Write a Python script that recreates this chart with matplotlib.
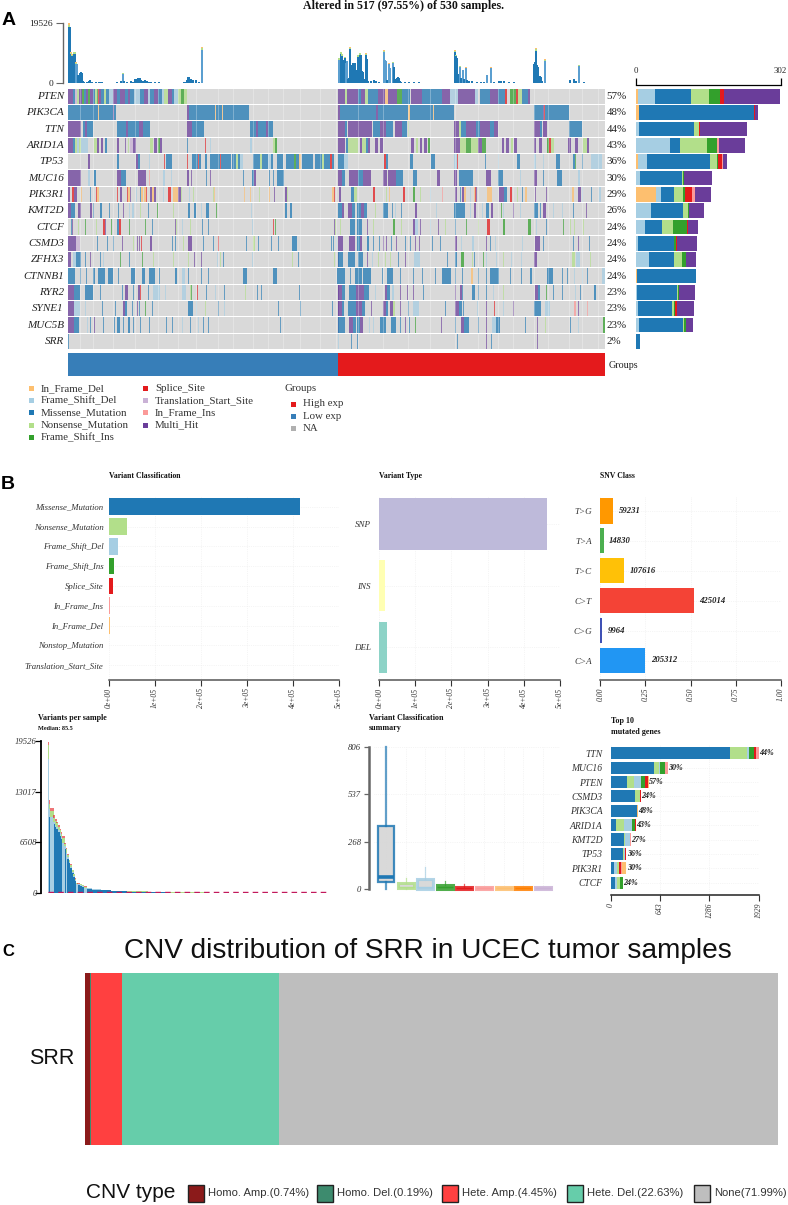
import matplotlib
matplotlib.use("Agg")
import matplotlib.pyplot as plt
from matplotlib.patches import Rectangle

W, H = 788, 1205
SERIF = "Liberation Serif"
SANS = "Liberation Sans"

# ---------- variant colours ----------
COL = {"D": "#FDBF6F", "F": "#A6CEE3", "M": "#1F78B4", "N": "#B2DF8A", "I": "#33A02C",
       "S": "#E31A1C", "T": "#CAB2D6", "J": "#FB9A99", "H": "#6A3D9A", "O": "#FF7F00"}

# ---------- panel A data ----------
GENES = ["PTEN", "PIK3CA", "TTN", "ARID1A", "TP53", "MUC16", "PIK3R1", "KMT2D",
         "CTCF", "CSMD3", "ZFHX3", "CTNNB1", "RYR2", "SYNE1", "MUC5B", "SRR"]
PCTS = ["57%", "48%", "44%", "43%", "36%", "30%", "29%", "26%", "24%", "24%", "24%", "24%",
        "23%", "23%", "23%", "2%"]
GROUP_NAMES = ["Low exp", "High exp"]
GROUP_SPAN = [270, 267]

# tokens: "start-endC" or "startC" (short run), positions along the sample axis
PTEN = ("0-5H 5-7M 7-9T 9-11N 11-14H 14-16I 16-18M 18-20H 20-22I 22-25H 25-27M 27-29N 29-30I 30-31S 31-33H "
        "33-36M 36-38N 38-41M 41-45F 45-49H 49-52M 52-57H 57-60M 60-62H 62-66M 66-72F 72-76M 76-80H 80-82F "
        "82-86M 86-90H 90-94M 94-96F 96-100N 100-104H 104-106M 106-110F 110-113N 113-116I 116-119N "
        "270-277H 277-279N 279-290H 290-293M 293-297H 297-300N 300-310M 310-317H 317-320D 320-329H 329-334I 334-342M "
        "343-354H 354-364M 364-374M 374-382H 382-390F 390-397H 397-407H 407-410F 412-422M 422-430H 430-437M 437-439S "
        "442-448I 448-450S 450-454N 454-460M 460-462H")
PIK3CA = "0-30M 30-31D 31-45M 45-46H 46-48M 119-121H 121-147M 147-148D 148-154M 154-155D 155-181M 270-272H 272-308M 308-310H 310-340M 340-342D 342-365M 365-366D 366-386M 466-475M 475-476H 476-477S 477-501M"
TTN = ("0-13H 15-17M 17-19H 19-25M 49-58M 58-60H 60-71M 71-75H 75-82M 119-124H 124-136M 182-188M 188-190H 190-198M 198-200H 200-205M "
       "270-277H 277-279M 280-304H 305-312M 312-318H 318-325M 327-334H 334-339M 340-341N "
       "386-391H 391-393N 393-398M 398-408H 408-412M 412-422H 422-426M 426-430H 466-472H 472-474M 475-479H 501-514M")
ARID1A = ("0-5H 5-7M 7-9N 9-11F 11-13N 13-20F 26-29N 29-31H 33-35H 37-39M 49-51H 57-58H 60-61N 62-65T 65-68H 82-85N 86-89H 90-92I 92-94H "
          "119-120M 137-138S 142-143F 182-184F 205-207N 207-209I "
          "270-277H 278-280M 280-290N 292-294H 294-298N 298-300M 300-302H 307-310H 312-315H 343-346H 348-350N 352-354H 356-359H 360-362I "
          "386-392H 392-398N 398-403I 403-410N 410-414H 414-418I 434-436H 438-441H 443-445N 446-449H 466-468H 471-474H 479-481I 481-483S 483-486N 500-503H 507-510H 515-519N 519-521H")
TP53 = ("20-22H 49-51M 68-70H 70-72M 81-82F 96-97S 98-104M 119-120S 124-130M 130-131S 131-133M 137-139M 142-152M 152-153S 153-163M "
        "164-168M 168-170N 170-172M 172-175F 185-192M 192-194N 194-200M 200-203F 203-205M 209-215M 218-226M 226-228I 228-231M 231-233D "
        "234-245M 247-254M 254-256N 256-262M 262-264S 264-266M 270-276M 276-280F 315-316F 316-318S 318-320M 342-345M 363-367M "
        "386-389F 389-390S 417-418M 430-431F 449-452M 466-468F 475-476F 488-492M 505-507M 507-508I 514-515M 523-534F")
MUC16 = ("0-13H 20-22F 26-28M 49-53H 53-58M 70-78H 81-82J 95-97F 103-104F 119-121H 123-124H 138-139M 142-143H 175-176M 184-186M 186-188H "
         "201-202M 205-206M 209-216M 270-274H 274-277M 281-290H 290-295M 295-303H 315-319H 320-328H 328-335M 345-349M 369-372H "
         "386-389H 391-405M 418-423H 430-435M 452-453F 466-469H 475-476M 489-494M 510-512F")
PIK3R1 = ("0-2H 4-6S 6-9H 13-14D 22-23M 28-29S 29-31D 49-50S 52-54H 59-60S 60-62D 62-63H 68-69F 72-73M 73-75D 76-78D 78-79S 82-84H 84-86D 86-88H "
          "95-96F 100-103S 105-110D 110-113H 113-114N 121-122F 125-126N 145-146N 146-147D 176-177D 182-183D 191-192N 201-202D 206-207H 217-219H 219-220N "
          "264-266D 266-267S 271-273H 283-286M 286-289N 305-307S 318-319N 321-322D 335-337S 345-347I 352-353N 362-363F 374-375J 387-389H 392-393M "
          "394-396H 396-398D 402-403F 406-407D 407-408S 408-409H 419-424D 431-436H 436-439M 442-444S 449-450N 454-455M 457-459D 467-468H 478-479H 504-506D 510-513H 514-515F 523-524M 531-533F")
KMT2D = ("0-3H 3-7M 10-13H 22-24H 25-26M 32-34M 41-42M 50-51M 55-56H 61-62F 64-66F 72-73N 80-81M 89-90I 105-106N 120-122M 126-128M 133-134F 138-141M 148-149I 183-184F 217-219M 222-224M "
         "270-274M 274-276H 280-284H 284-287M 289-293M 293-296H 296-299M 307-308N 315-320M 324-325M 327-328F 333-334M 347-349H 368-369F "
         "386-397M 402-403F 406-408H 414-415F 418-421M 423-425H 433-434I 435-436F 445-446H 452-453F 466-470M 472-473M 475-478H 485-486F 494-495F 505-506M 518-519H")
CTCF = ("3-4M 4-5H 10-11N 17-18I 28-29N 35-37S 37-38H 43-44I 49-51M 51-53S 61-62I 77-78I 84-85M 107-108H 108-109N 114-115F 122-123N 134-135M 140-141M 184-185F 205-206S 207-208I "
        "266-267H 267-268N 272-273N 282-287M 289-294M 299-300H 305-306N 325-327I 333-334N 345-347H 347-350F 352-353H 362-363F 370-371H 377-378N 387-388M 398-399I 410-411N 419-422S 435-437I 460-463I 468-469F 478-479M 495-496I 502-503N 506-507N 515-516N")
CSMD3 = ("0-8H 8-12T 29-30M 39-40M 45-46M 54-55H 65-66N 69-70H 71-72H 73-74S 82-84H 104-105M 107-108M 115-116N 120-124H 135-136M 145-146M 150-151S 178-179M 185-187N 190-191M 203-204M 210-211M 224-229M 263-264M 268-269F "
         "265-266M 270-275H 281-287H 289-292M 292-294H 299-301M 305-306M 311-312M 315-316H 318-319H 323-324M 328-329H 337-338M 342-343M 347-348H 351-352H 364-365M 372-373M 387-389H 393-394F 404-406F 418-419H 422-423M 427-428F 454-455F 467-472H 475-476M 505-506M 510-511H 521-522M")
ZFHX3 = ("0-3H 5-8F 8-13M 17-18M 22-23H 32-33M 35-36F 52-53I 61-62M 74-75I 85-86N 105-106N 120-121N 126-127H 133-134H 149-150F 152-153N 155-156M 184-185F 224-225N 230-231M 270-271H "
         "266-267N 270-275M 280-287M 290-295M 299-300H 304-305F 310-311N 317-318N 322-323N 330-331M 337-338H 346-352F 379-380M 387-389M 393-396I 404-405N 406-407M 415-416I 418-419F 428-429F 435-436N 443-444F 453-454F 466-469H 504-507N 508-512F 522-523N")
CTNNB1 = ("0-7M 12-13M 18-19M 25-27M 30-37M 40-45M 50-51M 63-67M 74-77M 81-87M 91-92M 107-109M 114-117F 120-121M 133-134M 140-141M 175-179M 205-209M "
          "269-277M 282-283M 287-294M 295-303M 314-315M 319-325M 332-333M 345-346M 354-355M 367-368M 374-383M 387-388M 394-395M 403-405D 410-411M 418-419M 422-431M 442-443M 453-454M 462-464M 479-485M 494-495M 499-500M 506-507F 514-515F 519-520M 534-537F")
RYR2 = ("0-6H 6-12M 17-25M 32-33M 54-55M 57-60H 65-66M 70-72H 72-73S 80-81M 85-92F 97-98F 114-118F 122-123N 123-124I 129-130S 138-139M 147-148F 156-157M 177-178N 189-190M 193-194M 231-232M 270-271H "
        "270-274H 274-277M 281-288M 288-296H 296-301M 307-308F 317-319H 319-322M 324-326F 332-333H 339-340H 345-346H 355-356M 387-388H 392-394H 394-395M 404-407M 410-411M 418-419M 425-426F 435-436N 467-470H 470-472M 478-479I 485-486M 494-495M 507-508F 512-513M 526-528M")
SYNE1 = ("0-6H 6-12F 17-18F 34-35M 47-48M 55-57H 57-59M 64-65M 69-70H 71-72M 77-78I 84-85M 120-125M 128-129F 137-138N 150-151M 156-157F 210-211M 232-233M 270-271H "
         "264-265M 270-274H 274-276M 280-288M 288-294H 294-297M 303-304H 315-318H 318-320M 322-325H 325-327N 332-333H 340-341M 345-351F 377-378M 387-391H 391-394M 395-396M 409-410F 418-419H 426-427S 435-436F 445-446H 466-473M 477-482F 506-508J 510-511H 519-520J")
MUC5B = ("0-6H 6-11M 19-20F 22-23M 26-27H 35-36M 46-47M 49-52M 55-56M 60-62M 65-66M 72-73M 81-82M 98-99M 104-105M 114-115F 122-123M 130-131F 135-136M 140-141M 212-213M 270-271H "
         "270-277M 281-285H 285-288M 289-292M 292-295H 301-302F 305-306F 312-318M 323-328M 332-333M 337-338H 341-342M 347-348I 373-374H 387-388M 393-396H 396-401M 410-411M 418-419H 424-428F 428-432M 457-458M 469-470H 477-478N 502-503M 510-511F 535-537I")
SRR = "0-1M 270-271F 283-284M 289-290M 389-390M 418-419H 423-424M 469-470H"
CELL_RUNS = [PTEN, PIK3CA, TTN, ARID1A, TP53, MUC16, PIK3R1, KMT2D, CTCF, CSMD3, ZFHX3, CTNNB1, RYR2, SYNE1, MUC5B, SRR]
CELL_SEPARATORS = [12, 25, 45, 67, 90, 110, 128, 150, 165, 185, 200, 215, 232, 252, 268, 290, 315, 340, 362, 387, 410, 430, 445, 466, 480, 501, 514, 530]

# totals per sample for the top bars (light blue ones listed apart)
TOP_SAMPLE = [0,1,2,3,4,5,6,7,8,9,10,11,12,13,14,15,18,20,21,23,27,30,32,33,48,52,54,55,58,62,64,66,67,69,71,72,74,76,78,80,82,86,90,100,105,
              115,117,118,119,120,122,124,127,130,133,135,140,150,155,165,175,185,190,200,210,220,230,240,250,260,268,
              270,271,272,273,274,275,276,277,278,279,280,281,282,283,284,285,286,287,288,289,290,291,292,293,294,295,296,297,298,299,302,305,307,310,315,316,317,318,320,321,324,325,326,328,329,330,331,
              332,336,340,345,350,386,387,388,389,390,391,392,393,394,395,397,398,400,403,408,412,415,418,422,425,430,432,435,440,445,465,466,467,468,469,470,471,472,473,476,480,490,501,505,507,510,515,520,530]
TOP_TOTAL = [18000,18000,9300,8800,4000,9500,9500,6300,6000,2600,2300,3300,3500,3400,500,300,300,500,1000,400,300,400,300,350,250,600,3000,800,400,500,300,1300,1200,1500,1600,1000,800,900,600,400,300,250,200,150,100,
             300,300,1000,2100,1800,1300,900,1100,300,10800,100,150,120,100,130,100,150,120,100,120,90,100,80,100,80,100,
             7600,7100,9500,8800,7600,7400,8000,6600,7100,1400,1500,10900,5200,5900,6600,6100,6600,4300,1700,8500,9000,9200,9100,4000,3600,1300,1000,9000,7800,500,500,1000,600,400,10000,7600,7100,1000,6000,4700,6400,5200,1200,1500,1800,1500,800,
             400,300,300,250,200,9900,8600,8000,2800,2000,5100,1500,1500,4300,1200,4800,1000,800,600,400,300,350,2700,4800,300,800,700,500,300,200,6200,6700,10500,5700,5200,2000,2400,1800,500,7100,150,150,1000,1200,600,5400,300,150,100]
LIGHT_SAMPLE = [7,8,54,133,270,271,277,278,315,316,317,320,321,324,391,394,397,418,422,476,510]
TIP_SAMPLE = [0,2,3,5,6,7,54,133,270,272,273,276,281,289,291,297,315,320,324,386,387,391,397,422,467,476,510]
TIP_NONS = [900,480,400,500,480,320,150,550,380,480,450,400,550,430,460,470,500,300,320,500,360,270,200,180,550,380,270]
TIP_OTHER = [400,200,150,200,170,120,50,200,150,200,150,130,200,150,150,150,200,100,120,250,150,100,80,60,300,150,100]

RIGHT_COUNTS = [
    [("D", 3.5), ("F", 37), ("M", 74.6), ("N", 38), ("I", 21.6), ("S", 8.4), ("H", 118.5)],
    [("D", 7), ("M", 240), ("S", 2), ("H", 5)],
    [("F", 6), ("M", 116), ("N", 9), ("I", 1), ("S", 2), ("H", 98)],
    [("F", 72), ("M", 19), ("N", 58), ("I", 21), ("J", 3), ("H", 54)],
    [("D", 5), ("F", 17), ("M", 133), ("N", 14), ("I", 2), ("S", 8), ("J", 2), ("H", 9)],
    [("F", 8), ("M", 89), ("N", 1), ("I", 2), ("H", 58)],
    [("D", 41), ("F", 11), ("M", 27), ("N", 19), ("I", 5), ("S", 14), ("J", 6), ("H", 34)],
    [("F", 32), ("M", 66), ("N", 10), ("I", 3), ("H", 31)],
    [("F", 18), ("M", 36), ("N", 24), ("I", 28), ("S", 3), ("H", 20)],
    [("F", 3.5), ("M", 75), ("N", 1.5), ("I", 3.5), ("S", 2), ("H", 43)],
    [("F", 26.5), ("M", 52), ("N", 17), ("I", 10), ("H", 20)],
    [("D", 2), ("M", 123), ("I", 1)],
    [("F", 2), ("M", 83), ("N", 3.5), ("I", 2), ("H", 33)],
    [("F", 4), ("M", 72), ("N", 3.5), ("I", 3), ("S", 3), ("H", 36)],
    [("F", 6), ("M", 93), ("N", 1.5), ("I", 3.5), ("H", 16)],
    [("M", 8.4)],
]

LEG1 = [("In_Frame_Del", "D"), ("Frame_Shift_Del", "F"), ("Missense_Mutation", "M"), ("Nonsense_Mutation", "N"), ("Frame_Shift_Ins", "I")]
LEG2 = [("Splice_Site", "S"), ("Translation_Start_Site", "T"), ("In_Frame_Ins", "J"), ("Multi_Hit", "H")]
LEG3 = [("High exp", "#E41A1C"), ("Low exp", "#377EB8"), ("NA", "#B0B0B0")]

# ---------- panel B data ----------
VC_NAMES = ["Missense_Mutation", "Nonsense_Mutation", "Frame_Shift_Del", "Frame_Shift_Ins", "Splice_Site",
            "In_Frame_Ins", "In_Frame_Del", "Nonstop_Mutation", "Translation_Start_Site"]
VC_VALUES = [415000, 40000, 18900, 11600, 9400, 2000, 1500, 1000, 300]
VC_CODES = ["M", "N", "F", "I", "S", "J", "D", "O", "T"]
SCI_TICKS = [0, 100000, 200000, 300000, 400000, 500000]
SCI_LABELS = ["0e+00", "1e+05", "2e+05", "3e+05", "4e+05", "5e+05"]

VT_NAMES = ["SNP", "INS", "DEL"]
VT_VALUES = [465000, 15700, 20300]
VT_COLORS = ["#BEBADA", "#FFFFB3", "#8DD3C7"]

SNV_NAMES = ["T>G", "T>A", "T>C", "C>T", "C>G", "C>A"]
SNV_COUNTS = [59231, 14830, 107616, 425014, 9964, 205312]
SNV_COLORS = ["#FF9800", "#4CAF50", "#FFC107", "#F44336", "#3F51B5", "#2196F3"]

VPS_START = [0, 2, 4, 10, 13, 16, 19, 22, 25, 27, 31, 34, 36, 39, 42, 45, 48, 51, 53, 56, 60, 64, 68, 74, 84, 100, 120, 150, 190, 230, 300]
VPS_WIDTH = [2, 2, 6, 3, 3, 3, 3, 3, 2, 4, 3, 2, 3, 3, 3, 3, 3, 2, 3, 4, 4, 4, 6, 10, 16, 20, 30, 40, 40, 70, 230]
VPS_MISS = [0, 9800, 0, 8900, 8500, 8200, 7800, 7400, 7000, 0, 5700, 0, 4400, 3800, 3200, 2600, 2100, 1600, 0, 1050, 950, 800, 0, 500, 400, 330, 230, 150, 90, 50, 20]
VPS_LIGHT = [17300, 1000, 9800, 300, 300, 300, 300, 300, 200, 6500, 300, 5200, 250, 200, 200, 150, 150, 100, 1150, 100, 100, 100, 700, 80, 70, 60, 40, 30, 20, 12, 6]
VPS_NONS = [1700, 700, 800, 500, 450, 450, 450, 400, 400, 550, 300, 420, 250, 230, 220, 170, 180, 140, 100, 70, 70, 70, 110, 50, 35, 30, 25, 15, 8, 6, 3]
VPS_SPLICE = [500, 500, 300, 300, 250, 250, 250, 200, 300, 250, 100, 180, 100, 70, 80, 80, 70, 60, 50, 30, 30, 30, 40, 20, 15, 10, 5, 5, 2, 2, 1]
VPS_MEDIAN = 85.5
VPS_TICKS = [0, 6508, 13017, 19526]

BOX_CODES = ["M", "N", "F", "I", "S", "J", "D", "O", "T"]
BOX_Q1 = [38, 2, 1, 0, 0, 0, 0, 0, 0]
BOX_MED = [65, 8, 9, 9, 3, 2, 2, 2, 2]
BOX_Q3 = [359, 30, 53, 19, 11, 8, 8, 8, 8]
BOX_LOW = [0, 0, 0, 0, 0, 0, 0, 0, 0]
BOX_HIGH = [806, 62, 125, 45, 26, 10, 10, 10, 10]
BOX_TICKS = [0, 268, 537, 806]

TOP_GENES = ["TTN", "MUC16", "PTEN", "CSMD3", "PIK3CA", "ARID1A", "KMT2D", "TP53", "PIK3R1", "CTCF"]
TOP_PCT = ["44%", "30%", "57%", "24%", "48%", "43%", "27%", "36%", "30%", "24%"]
TOP_STACK = [
    [("M", 1551), ("N", 230), ("F", 26), ("I", 65), ("S", 22), ("J", 35)],
    [("M", 569), ("N", 65), ("F", 4), ("I", 65), ("S", 1), ("J", 43)],
    [("M", 208), ("N", 96), ("F", 91), ("I", 52), ("S", 43), ("D", 9)],
    [("M", 317), ("N", 61), ("F", 2), ("S", 13)],
    [("M", 339), ("D", 13)],
    [("M", 70), ("N", 104), ("F", 109), ("I", 39), ("S", 4)],
    [("M", 178), ("N", 13), ("F", 61), ("I", 4), ("J", 12)],
    [("M", 156), ("N", 22), ("F", 9), ("S", 17)],
    [("M", 48), ("F", 39), ("N", 22), ("I", 4), ("S", 26), ("J", 9), ("D", 56)],
    [("M", 61), ("F", 26), ("N", 30), ("I", 39), ("S", 4)],
]
TOP_TICKS = [0, 643, 1286, 1929]

# ---------- panel C data ----------
CNV_NAMES = ["Homo. Amp.", "Homo. Del.", "Hete. Amp.", "Hete. Del.", "None"]
CNV_PCT = [0.74, 0.19, 4.45, 22.63, 71.99]
CNV_COLORS = ["#8B1A1A", "#3D8B6E", "#FF4040", "#66CDAA", "#BEBEBE"]

# ---------- helpers ----------
plt.rcParams["font.family"] = [SERIF, "DejaVu Serif"]
fig = plt.figure(figsize=(W / 100, H / 100), dpi=100, facecolor="white")


def axpx(x0, y0, x1, y1):
    ax = fig.add_axes([x0 / W, 1 - y1 / H, (x1 - x0) / W, (y1 - y0) / H])
    ax.patch.set_alpha(0)
    return ax


overlay = axpx(0, 0, W, H)
overlay.set_xlim(0, W)
overlay.set_ylim(H, 0)
overlay.axis("off")
overlay.set_zorder(10)


def txt(x, y, s, **kw):
    kw.setdefault("va", "center")
    overlay.text(x, y, s, **kw)


def bare(ax):
    for s in ax.spines.values():
        s.set_visible(False)
    ax.set_xticks([])
    ax.set_yticks([])


def parse_runs(s):
    for tok in s.split():
        code = tok[-1]
        a, b = tok[:-1].split("-")
        yield float(a), float(b), code


ROW_H = 16.33
TOP_Y = 88.3

# top bars
ax = axpx(68, 22.7, 605, 83)
bare(ax)
ax.set_xlim(0, 537)
ax.set_ylim(0, 19526)
miss_colors = ["#5B9FD0" if s in LIGHT_SAMPLE else COL["M"] for s in TOP_SAMPLE]
ax.bar(TOP_SAMPLE, TOP_TOTAL, width=1.6, align="edge", color=miss_colors, lw=0)
for s, n, o in zip(TIP_SAMPLE, TIP_NONS, TIP_OTHER):
    base = TOP_TOTAL[TOP_SAMPLE.index(s)]
    ax.bar(s, n, bottom=base, width=1.6, align="edge", color=COL["N"], lw=0)
    ax.bar(s, o, bottom=base + n, width=1.6, align="edge", color=COL["D"], lw=0)
ax.hlines(0, 0, 537, color="#c8c8d8", lw=0.5)
yax = axpx(63, 22.7, 68, 83)
bare(yax)
yax.set_ylim(0, 19526)
yax.spines["left"].set_visible(True)
yax.spines["left"].set_color("#666666")
yax.spines["left"].set_linewidth(1)
yax.set_yticks([0, 19526])
yax.set_yticklabels(["0", "19526"], fontsize=6.8, color="#222222")
yax.tick_params(axis="y", length=5, width=0.8, color="#666666", pad=2)

# oncoplot cells
ax = axpx(68, TOP_Y, 605, TOP_Y + ROW_H * len(GENES))
bare(ax)
ax.set_xlim(0, 537)
ax.set_ylim(len(GENES), 0)
for r, runs in enumerate(CELL_RUNS):
    ax.add_patch(Rectangle((0, r + 0.03), 537, 0.94, fc="#D9D9D9", lw=0))
    for a, b, c in parse_runs(runs):
        narrow = b - a <= 1.5
        pad = 0.45 if narrow else 0.1
        ax.add_patch(Rectangle((a - pad, r + 0.03), b - a + 2 * pad, 0.94, fc=COL[c],
                               alpha=0.62 if narrow else 0.74, lw=0))
ax.vlines(CELL_SEPARATORS, 0, len(GENES), color="white", lw=0.5, alpha=0.4)
for r, (g, p) in enumerate(zip(GENES, PCTS)):
    y = TOP_Y + ROW_H * (r + 0.5)
    txt(64, y, g, ha="right", style="italic", fontsize=8, color="#222222")
    txt(606.5, y, p, ha="left", fontsize=7.9, color="#222222")

# right stacked bars
ax = axpx(636, TOP_Y, 780.5, TOP_Y + ROW_H * len(GENES))
bare(ax)
ax.set_xlim(0, 302)
ax.set_ylim(len(GENES), 0)
for r, stack in enumerate(RIGHT_COUNTS):
    left = 0
    for code, v in stack:
        ax.barh(r + 0.5, v, left=left, height=0.9, color=COL[code], lw=0)
        left += v
ax = axpx(636, 79, 780.5, 85)
bare(ax)
ax.set_xlim(0, 302)
ax.set_ylim(0, 1)
ax.spines["bottom"].set_visible(True)
ax.spines["bottom"].set_linewidth(0.9)
ax.set_xticks([0, 302])
ax.tick_params(axis="x", direction="in", length=5, width=0.9, labelbottom=False, labeltop=False)
txt(636, 71, "0", ha="center", fontsize=6.3, color="#222222")
txt(780.5, 71, "302", ha="center", fontsize=6.3, color="#222222")

# group bar
ax = axpx(68, 353.3, 605, 376)
bare(ax)
ax.set_xlim(0, 537)
ax.set_ylim(0, 1)
ax.barh(0.5, GROUP_SPAN[0], height=1, left=0, color="#377EB8", lw=0)
ax.barh(0.5, GROUP_SPAN[1], height=1, left=GROUP_SPAN[0], color="#E41A1C", lw=0)
txt(608.5, 365, "Groups", ha="left", fontsize=7.3, color="#222222")

# legends
for i, (t, c) in enumerate(LEG1):
    y = 388.3 + 12.3 * i
    overlay.add_patch(Rectangle((29.5, y - 2.5), 5, 5, fc=COL[c], lw=0))
    txt(40.7, y, t, fontsize=7.8, color="#333333")
for i, (t, c) in enumerate(LEG2):
    y = 388.3 + 12.3 * i
    overlay.add_patch(Rectangle((143.5, y - 2.5), 5, 5, fc=COL[c], lw=0))
    txt(155, y, t, fontsize=7.8, color="#333333")
txt(285, 388.3, "Groups", fontsize=7.8, color="#333333")
for i, (t, c) in enumerate(LEG3):
    y = 404 + 12.3 * i
    overlay.add_patch(Rectangle((291.5, y - 2.5), 5, 5, fc=c, lw=0))
    txt(303, y, t, fontsize=7.8, color="#333333")

txt(404, 5.5, "Altered in 517 (97.55%) of 530 samples.", ha="center", fontweight="bold", fontsize=8.6, color="#111111")
txt(2, 20.5, "A", family=SANS, fontweight="bold", fontsize=14, color="black")
txt(1, 484.5, "B", family=SANS, fontweight="bold", fontsize=14, color="black")
txt(2, 951, "C", family=SANS, fontweight="bold", fontsize=12, color="black")


def bottom_axis(ax, ticks, labels):
    for s in ("top", "right", "left"):
        ax.spines[s].set_visible(False)
    ax.spines["bottom"].set_color("#555555")
    ax.spines["bottom"].set_linewidth(1.1)
    ax.set_xticks(ticks)
    ax.set_xticklabels(labels, rotation=90, style="italic", fontsize=5.5, color="#333333")
    ax.tick_params(axis="x", length=4.5, width=0.8, color="#333333", pad=1)
    ax.tick_params(axis="y", length=0)
    ax.grid(True, color="#ececec", lw=0.5, ls=":")
    ax.set_axisbelow(True)


def row_axis(x0, x1, y_top, y_bot, first, spacing):
    ax = axpx(x0, y_top, x1, y_bot)
    ax.set_ylim((y_bot - first) / spacing, (y_top - first) / spacing)
    return ax


# Variant Classification
ax = row_axis(109, 338.7, 497, 680, 506.7, 19.8)
ax.set_xlim(0, 500000)
ax.barh(range(len(VC_NAMES)), VC_VALUES, height=0.84, color=[COL[c] for c in VC_CODES], lw=0)
bottom_axis(ax, SCI_TICKS, SCI_LABELS)
ax.set_yticks(range(len(VC_NAMES)))
ax.set_yticklabels(VC_NAMES, style="italic", fontsize=6.3, color="#333333")
ax.tick_params(axis="y", pad=4)
txt(109, 476, "Variant Classification", fontweight="bold", fontsize=5.6, color="#111111")

# Variant Type
ax = row_axis(379.3, 559.7, 497, 680, 524, 61.7)
ax.set_xlim(0, 500000)
ax.barh(range(3), VT_VALUES, height=0.83, color=VT_COLORS, lw=0)
bottom_axis(ax, SCI_TICKS, SCI_LABELS)
ax.set_yticks(range(3))
ax.set_yticklabels(VT_NAMES, style="italic", fontsize=6.5, color="#333333")
ax.tick_params(axis="y", pad=6)
txt(379.5, 476, "Variant Type", fontweight="bold", fontsize=5.6, color="#111111")

# SNV class
ax = row_axis(600.3, 781, 497, 680, 511, 29.9)
ax.set_xlim(0, 1)
total = sum(SNV_COUNTS)
fr = [c / total for c in SNV_COUNTS]
ax.barh(range(6), fr, height=0.84, color=SNV_COLORS, lw=0)
for i, (f, c) in enumerate(zip(fr, SNV_COUNTS)):
    ax.text(f + 0.03, i, str(c), style="italic", fontweight="bold", fontsize=6.2, va="center", color="#222222")
bottom_axis(ax, [0, 0.25, 0.5, 0.75, 1], ["0.00", "0.25", "0.50", "0.75", "1.00"])
ax.set_yticks(range(6))
ax.set_yticklabels(SNV_NAMES, style="italic", fontsize=6.5, color="#333333")
ax.tick_params(axis="y", pad=6)
txt(600.5, 476, "SNV Class", fontweight="bold", fontsize=5.6, color="#111111")

# Variants per sample
ax = axpx(48, 741.3, 327, 893)
ax.set_xlim(0, 530)
ax.set_ylim(0, 19526)
b = [0] * len(VPS_START)
wid = [w + 0.5 for w in VPS_WIDTH]
for vals, code in ((VPS_MISS, "M"), (VPS_LIGHT, "F"), (VPS_NONS, "N"), (VPS_SPLICE, "S")):
    ax.bar(VPS_START, vals, width=wid, align="edge", bottom=b, color=COL[code], lw=0,
           alpha=0.6 if code == "S" else 1)
    b = [x + y for x, y in zip(b, vals)]
ax.hlines(VPS_MEDIAN, 0, 530, color="#C2185B", lw=1, linestyles=(0, (4, 3)))
for s in ("top", "right", "bottom"):
    ax.spines[s].set_visible(False)
ax.spines["left"].set_position(("outward", 5.4))
ax.spines["left"].set_linewidth(1.3)
ax.spines["left"].set_bounds(0, 19526)
ax.set_xticks([])
ax.set_yticks(VPS_TICKS)
ax.set_yticklabels([str(t) for t in VPS_TICKS], style="italic", fontsize=6.2, color="#333333")
ax.tick_params(axis="y", length=4, width=0.9, pad=-1.5)
txt(38, 718, "Variants per sample", fontweight="bold", fontsize=5.8, color="#111111")
txt(38, 729, "Median: 85.5", fontweight="bold", fontsize=4.4, color="#111111")

# Variant Classification summary
ax = axpx(374, 747.3, 560, 888.7)
ax.set_xlim(-0.61, 8.88)
ax.set_ylim(0, 806)
stats = [dict(med=m, q1=a, q3=c, whislo=l, whishi=h, fliers=[]) for m, a, c, l, h in
         zip(BOX_MED, BOX_Q1, BOX_Q3, BOX_LOW, BOX_HIGH)]
bp = ax.bxp(stats, positions=range(9), widths=0.82, patch_artist=True, showcaps=False, showfliers=False)
for i, code in enumerate(BOX_CODES):
    col = COL[code]
    bp["boxes"][i].set(facecolor="#D3D3D3", edgecolor=col, lw=1.6 if i == 0 else 2.2, alpha=0.85, clip_on=False)
    bp["medians"][i].set(color=col, lw=2.6 if i == 0 else 1.0, clip_on=False)
    for w in bp["whiskers"][2 * i:2 * i + 2]:
        w.set(color=col, lw=1.6 if i == 0 else 0.9, alpha=0.7, clip_on=False)
for s in ("top", "right", "bottom"):
    ax.spines[s].set_visible(False)
ax.spines["left"].set_position(("outward", 3.6))
ax.spines["left"].set_color("#666666")
ax.spines["left"].set_linewidth(1.8)
ax.set_xticks(range(9))
ax.set_xticklabels([])
ax.tick_params(axis="x", length=0)
ax.set_yticks(BOX_TICKS)
ax.set_yticklabels([str(t) for t in BOX_TICKS], style="italic", fontsize=6.2, color="#333333")
ax.tick_params(axis="y", length=3.5, width=0.9, color="#666666", pad=2)
ax.grid(True, color="#ececec", lw=0.5, ls=":")
ax.set_axisbelow(True)
txt(369, 718, "Variant Classification", fontweight="bold", fontsize=5.8, color="#111111")
txt(369, 728.5, "summary", fontweight="bold", fontsize=5.8, color="#111111")

# Top 10 genes
ax = row_axis(610.7, 758.7, 745, 895, 753.3, 14.37)
ax.set_xlim(0, 1929)
for r, stack in enumerate(TOP_STACK):
    left = 0
    for code, v in stack:
        ax.barh(r, v, left=left, height=0.84, color=COL[code], lw=0)
        left += v
    ax.text(left + 4, r, TOP_PCT[r], style="italic", fontweight="bold", fontsize=5.8, va="center", color="#222222")
bottom_axis(ax, TOP_TICKS, [str(t) for t in TOP_TICKS])
ax.spines["bottom"].set_color("#222222")
ax.set_yticks(range(10))
ax.set_yticklabels(TOP_GENES, style="italic", fontsize=6.9, color="#333333")
ax.tick_params(axis="y", pad=6)
txt(611, 721, "Top 10", fontweight="bold", fontsize=5.8, color="#111111")
txt(611, 731.5, "mutated genes", fontweight="bold", fontsize=5.8, color="#111111")

# Panel C
ax = axpx(85, 973, 778, 1145)
bare(ax)
ax.set_xlim(0, 100)
ax.set_ylim(0, 1)
left = 0
order = [0, 1, 2, 3, 4]
for i in order:
    ax.barh(0.5, CNV_PCT[i], left=left, height=1, color=CNV_COLORS[i], lw=0)
    left += CNV_PCT[i]
txt(428, 951, "CNV distribution of SRR in UCEC tumor samples", ha="center", family=SANS, fontsize=20.2, color="#111111")
txt(74.5, 1058, "SRR", ha="right", family=SANS, fontsize=15.5, color="#111111")
txt(86, 1192, "CNV type", family=SANS, fontsize=15, color="#111111")
PATCH_X = [188, 317, 442, 567, 694]
for i, px in enumerate(PATCH_X):
    overlay.add_patch(Rectangle((px, 1185), 16, 17, fc=CNV_COLORS[i], ec="#222222", lw=1))
    txt(px + 20, 1193.5, f"{CNV_NAMES[i]}({CNV_PCT[i]:.2f}%)", family=SANS, fontsize=8.1, color="#333333")

fig.savefig("out.png", dpi=100)
